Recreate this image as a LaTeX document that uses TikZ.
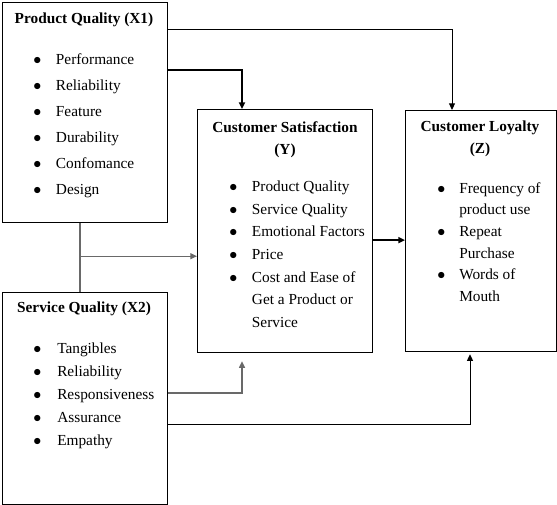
\documentclass[tikz,border=0pt]{standalone}
\usepackage{fontspec}
\setmainfont{Liberation Serif}
\usetikzlibrary{arrows.meta,positioning,calc}
\definecolor{LineGray}{RGB}{105,105,105}
\newcommand{\bul}[2][17pt]{\makebox[#1][l]{$\bullet$}#2}
\newcommand{\cnt}[2][17pt]{\hspace*{#1}#2}

\begin{document}
\begin{tikzpicture}[x=0.75pt, y=-0.75pt,
    box/.style={draw, line width=0.9pt, inner sep=0pt, anchor=north west},
    head/.style={font=\fontsize{11.5}{16.5}\selectfont\bfseries, align=center, inner sep=0pt, anchor=north},
    items/.style={align=left, inner sep=0pt, anchor=north west},
    conn/.style={-{Triangle[length=5pt,width=4.5pt]}, line width=0.75pt}]
  \useasboundingbox (0,0) rectangle (557,505);

  \node[box, minimum width=123.75pt, minimum height=165pt] (X1) at (2,2) {};
  \node[box, minimum width=123.75pt, minimum height=159pt] (X2) at (2,292) {};
  \node[box, minimum width=131.25pt, minimum height=182.25pt] (Y) at (197,109) {};
  \node[box, minimum width=113.25pt, minimum height=180.75pt] (Z) at (405,110) {};

  \node[head] (X1t) at ($(X1.north west)+(82,11)$) {Product Quality (X1)};
  \node[head] (X2t) at ($(X2.north west)+(82,10)$) {Service Quality (X2)};
  \node[head] (Yt) at ($(Y.north west)+(88,12)$) {Customer Satisfaction\\(Y)};
  \node[head] (Zt) at ($(Z.north west)+(75,11)$) {Customer Loyalty\\(Z)};

  \node[items, font=\fontsize{11.5}{19.5}\selectfont] (X1l) at ($(X1.north west)+(31,51)$)
    {\bul{Performance}\\ \bul{Reliability}\\ \bul{Feature}\\ \bul{Durability}\\ \bul{Confomance}\\ \bul{Design}};
  \node[items, font=\fontsize{11.5}{17.25}\selectfont] (X2l) at ($(X2.north west)+(31,51)$)
    {\bul[18pt]{Tangibles}\\ \bul[18pt]{Reliability}\\ \bul[18pt]{Responsiveness}\\ \bul[18pt]{Assurance}\\ \bul[18pt]{Empathy}};
  \node[items, font=\fontsize{11.5}{16.9}\selectfont] (Yl) at ($(Y.north west)+(32,72)$)
    {\bul{Product Quality}\\ \bul{Service Quality}\\ \bul{Emotional Factors}\\ \bul{Price}\\ \bul{Cost and Ease of}\\ \cnt{Get a Product or}\\ \cnt{Service}};
  \node[items, font=\fontsize{11.5}{16.3}\selectfont] (Zl) at ($(Z.north west)+(32,72)$)
    {\bul[16.5pt]{Frequency of}\\ \cnt[16.5pt]{product use}\\ \bul[16.5pt]{Repeat}\\ \cnt[16.5pt]{Purchase}\\ \bul[16.5pt]{Words of}\\ \cnt[16.5pt]{Mouth}};

  \draw[conn] (X1.east |- 0,30) -| ($(Z.north west)+(47,0)$);
  \draw[conn, line width=1.3pt] (X1.east |- 0,70) -| ($(Y.north west)+(45,0)$);
  \draw[LineGray, line width=0.9pt] ($(X1.south west)+(78,0)$) -- ($(X2.north west)+(78,0)$);
  \coordinate (jn) at ($(X1.south west)+(78,33)$);
  \draw[conn, LineGray, line width=0.9pt] (jn) -- (jn -| Y.west);
  \coordinate (yz) at ($(Y.east)+(0,9)$);
  \draw[conn, line width=1.3pt] (yz) -- (yz -| Z.west);
  \draw[conn, LineGray, line width=0.9pt, shorten >=6pt] (X2.east |- 0,393) -| ($(Y.south west)+(45,0)$);
  \draw[conn, shorten >=1.5pt] (X2.east |- 0,425) -| ($(Z.south west)+(65,0)$);
\end{tikzpicture}
\end{document}
